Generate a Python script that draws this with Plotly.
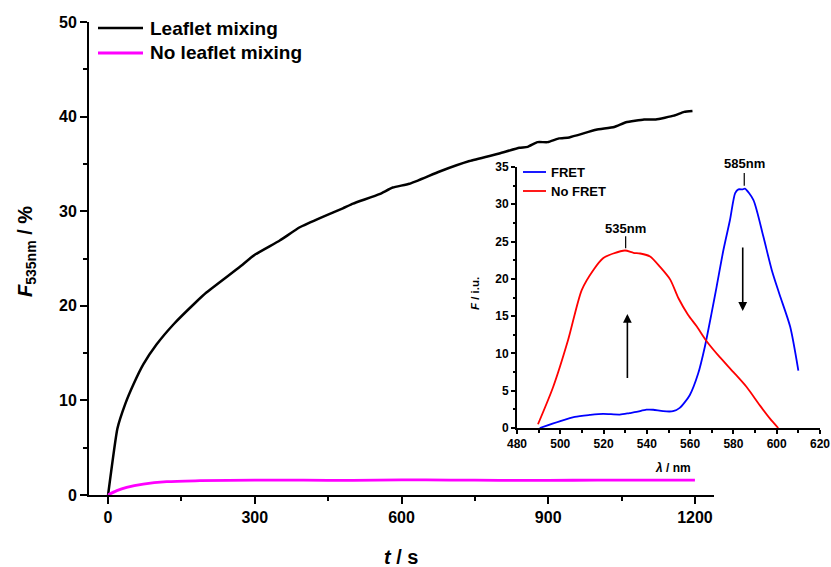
import plotly.graph_objects as go

# ---- main panel: leaflet mixing kinetics ----
t_mix = [0, 19, 35, 52, 72, 99, 135, 180, 201, 269, 300, 351, 392, 439, 480, 501, 555,
         582, 616, 678, 739, 800, 841, 858, 878, 899, 922, 943, 998, 1035, 1059, 1096,
         1120, 1157, 1178, 1195]
f_mix = [0, 7.0, 9.6, 11.7, 13.8, 15.9, 18.1, 20.4, 21.4, 24.1, 25.4, 26.9, 28.3, 29.4,
         30.3, 30.8, 31.8, 32.5, 32.9, 34.2, 35.3, 36.1, 36.7, 36.8, 37.3, 37.3, 37.7,
         37.8, 38.6, 38.9, 39.4, 39.7, 39.7, 40.1, 40.5, 40.6]

t_nomix = [0, 18, 38, 72, 120, 188, 300, 400, 500, 600, 700, 800, 900, 1000, 1100, 1200]
f_nomix = [0, 0.46, 0.81, 1.16, 1.41, 1.51, 1.58, 1.57, 1.55, 1.60, 1.58, 1.55, 1.55,
           1.57, 1.58, 1.57]

main_names = ["Leaflet mixing", "No leaflet mixing"]
main_colors = ["#000000", "#FF00FF"]
x_ticks = [0, 300, 600, 900, 1200]

# ---- inset: emission spectra ----
lam_fret = [490.5, 499.7, 506.7, 513.6, 519.8, 527.5, 532.0, 535.2, 539.8, 542.9, 547.5,
            552.1, 555.2, 559.8, 563.7, 566.8, 569.9, 572.2, 575.4, 578.4, 580.8, 582.3,
            584.3, 585.3, 589.2, 593.8, 597.7, 601.2, 606.2, 610.0]
f_fret = [0, 0.9, 1.5, 1.75, 1.9, 1.8, 2.0, 2.15, 2.45, 2.45, 2.25, 2.25, 2.7, 4.4, 7.3,
          10.9, 15.4, 18.9, 23.9, 27.9, 31.5, 32.0, 32.0, 32.1, 30.6, 25.7, 21.2, 18.0,
          13.6, 7.7]

lam_nofret = [489.7, 496.7, 503.6, 509.9, 515.3, 519.9, 524.5, 529.9, 533.8, 536.9,
              541.5, 546.1, 550.8, 554.6, 559.0, 563.1, 567.7, 573.7, 580.0, 586.1,
              592.3, 596.9, 600.7]
f_nofret = [0.5, 5.5, 11.8, 18.5, 21.2, 22.8, 23.4, 23.8, 23.5, 23.4, 23.0, 21.6, 19.9,
            17.4, 15.2, 13.6, 11.6, 9.5, 7.5, 5.5, 3.0, 1.25, 0]

inset_names = ["FRET", "No FRET"]
inset_colors = ["#0000FF", "#FF0000"]
peak_labels = ["535nm", "585nm"]
peak_pos = [530.2, 585.0]

FONT = "Liberation Sans, Arial, Helvetica, sans-serif"
W, H = 831, 567
ML, MR, MT, MB = 89, 11, 22, 72
PW, PH = W - ML - MR, H - MT - MB


def px(x):
    return (x - ML) / PW


def py(y):
    return (H - MB - y) / PH


fig = go.Figure()

for xs, ys, name, col, lw, sm in [(t_mix, f_mix, main_names[0], main_colors[0], 2.5, 0.4),
                                  (t_nomix, f_nomix, main_names[1], main_colors[1], 2.8, 0.8)]:
    fig.add_trace(go.Scatter(x=xs, y=ys, mode="lines", name=name,
                             line=dict(color=col, width=lw, shape="spline", smoothing=sm),
                             xaxis="x", yaxis="y", showlegend=False))

for xs, ys, name, col in [(lam_fret, f_fret, inset_names[0], inset_colors[0]),
                          (lam_nofret, f_nofret, inset_names[1], inset_colors[1])]:
    fig.add_trace(go.Scatter(x=xs, y=ys, mode="lines", name=name,
                             line=dict(color=col, width=1.8, shape="spline", smoothing=0.7),
                             xaxis="x2", yaxis="y2", showlegend=False))

axis_common = dict(showline=True, linecolor="black", showgrid=False, zeroline=False,
                   ticks="outside", tickcolor="black", automargin=False)

x_main_right = 714
fig.update_layout(
    width=W, height=H,
    margin=dict(l=ML, r=MR, t=MT, b=MB, autoexpand=False),
    paper_bgcolor="white", plot_bgcolor="rgba(0,0,0,0)",
    font=dict(family=FONT, color="black"),
    xaxis=dict(axis_common, domain=[0, px(x_main_right)], range=[-39, 1239],
               tickvals=x_ticks, linewidth=2, tickwidth=2, ticklen=7,
               minor=dict(dtick=150, tick0=0, ticks="outside", ticklen=4, tickwidth=2,
                          tickcolor="black"),
               tickfont=dict(family=FONT, size=16, weight="bold"), anchor="y"),
    yaxis=dict(axis_common, domain=[0, 1], range=[0, 50], dtick=10, linewidth=2,
               tickwidth=2, ticklen=7,
               minor=dict(dtick=5, tick0=0, ticks="outside", ticklen=4, tickwidth=2,
                          tickcolor="black"),
               tickfont=dict(family=FONT, size=16, weight="bold"), anchor="x"),
    xaxis2=dict(axis_common, domain=[px(517), 1.0], range=[480, 620], dtick=20,
                linewidth=2, tickwidth=1.5, ticklen=4,
                minor=dict(dtick=10, tick0=480, ticks="outside", ticklen=2.5,
                           tickwidth=1.5, tickcolor="black"),
                tickfont=dict(family=FONT, size=12, weight="bold"), anchor="y2"),
    yaxis2=dict(axis_common, domain=[py(428), py(167)], range=[0, 35], dtick=5,
                linewidth=2, tickwidth=1.5, ticklen=4,
                minor=dict(dtick=2.5, tick0=0, ticks="outside", ticklen=2.5,
                           tickwidth=1.5, tickcolor="black"),
                tickfont=dict(family=FONT, size=12, weight="bold"), anchor="x2"),
    showlegend=False,
)

ann = []
shapes = []

# axis titles
ann.append(dict(text="<b><i>F</i><sub>535nm</sub> / %</b>", xref="paper", yref="paper",
                x=px(27), y=py(252), textangle=-90, showarrow=False,
                font=dict(family=FONT, size=20), xanchor="center", yanchor="middle"))
ann.append(dict(text="<b><i>t</i> / s</b>", xref="paper", yref="paper",
                x=px(401), y=py(557), showarrow=False,
                font=dict(family=FONT, size=20), xanchor="center", yanchor="middle"))
ann.append(dict(text="<b><i>F</i> / i.u.</b>", xref="paper", yref="paper",
                x=px(475), y=py(294), textangle=-90, showarrow=False,
                font=dict(family=FONT, size=11.5), xanchor="center", yanchor="middle"))
ann.append(dict(text="<b><i>λ</i> / nm</b>", xref="paper", yref="paper",
                x=px(673), y=py(468), showarrow=False,
                font=dict(family=FONT, size=12), xanchor="center", yanchor="middle"))

# main legend
for i, (name, col, lw) in enumerate(zip(main_names, main_colors, [2.5, 2.8])):
    yy = 28 + 25 * i
    shapes.append(dict(type="line", xref="paper", yref="paper", x0=px(98), x1=px(143),
                       y0=py(yy), y1=py(yy), line=dict(color=col, width=lw)))
    ann.append(dict(text=f"<b>{name}</b>", xref="paper", yref="paper", x=px(148),
                    y=py(yy), xanchor="left", yanchor="middle", showarrow=False,
                    font=dict(family=FONT, size=19)))

# inset legend
for i, (name, col) in enumerate(zip(inset_names, inset_colors)):
    yy = 172 + 19 * i
    shapes.append(dict(type="line", xref="paper", yref="paper", x0=px(523), x1=px(546),
                       y0=py(yy), y1=py(yy), line=dict(color=col, width=1.8)))
    ann.append(dict(text=f"<b>{name}</b>", xref="paper", yref="paper", x=px(549),
                    y=py(yy), xanchor="left", yanchor="middle", showarrow=False,
                    font=dict(family=FONT, size=13)))

# peak labels with short markers
ann.append(dict(text=f"<b>{peak_labels[0]}</b>", xref="x2", yref="y2", x=peak_pos[0],
                y=26.7, showarrow=False, font=dict(family=FONT, size=13),
                xanchor="center", yanchor="middle"))
shapes.append(dict(type="line", xref="x2", yref="y2", x0=peak_pos[0], x1=peak_pos[0],
                   y0=24.1, y1=25.7, line=dict(color="black", width=1.2)))
ann.append(dict(text=f"<b>{peak_labels[1]}</b>", xref="x2", yref="paper", x=peak_pos[1],
                y=py(164), showarrow=False, font=dict(family=FONT, size=13),
                xanchor="center", yanchor="middle"))
shapes.append(dict(type="line", xref="x2", yref="y2", x0=peak_pos[1], x1=peak_pos[1],
                   y0=32.5, y1=34.2, line=dict(color="black", width=1.2)))

# arrows: rise at 535 nm, drop at 585 nm
ann.append(dict(text="", xref="x2", yref="y2", axref="x2", ayref="y2", x=531, y=15.3,
                ax=531, ay=6.5, showarrow=True, arrowhead=2, arrowsize=1.1,
                arrowwidth=1.6, arrowcolor="black"))
ann.append(dict(text="", xref="x2", yref="y2", axref="x2", ayref="y2", x=584.3, y=15.7,
                ax=584.3, ay=24.4, showarrow=True, arrowhead=2, arrowsize=1.1,
                arrowwidth=1.6, arrowcolor="black"))

fig.update_layout(annotations=ann, shapes=shapes)

fig.write_html("out.html", config={"displayModeBar": False})
